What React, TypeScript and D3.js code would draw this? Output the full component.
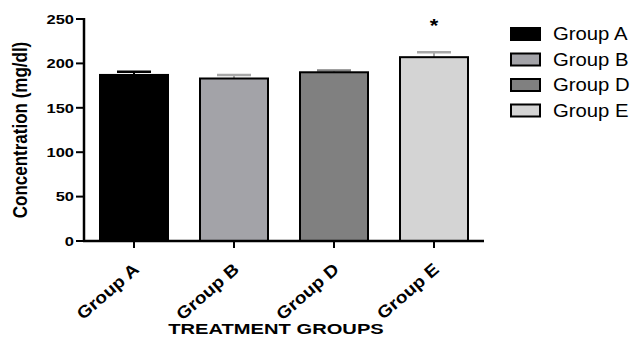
import React from "react";
import * as d3 from "d3";

const groups = ["Group A", "Group B", "Group D", "Group E"];
const means = [187, 183, 190, 207];
const errors = [3.5, 4, 2, 5.5];
const fills = ["#000000", "#a3a3a8", "#808080", "#d4d4d4"];
const capColors = ["#000000", "#a8a8a8", "#808080", "#a8a8a8"];
const yTicks = [0, 50, 100, 150, 200, 250];

const W = 635;
const H = 337;
const margin = { top: 19, right: 151, bottom: 96, left: 84 };
// the reference image is stretched horizontally a bit
const SX = 1.22;

const App = () => {
  const innerH = H - margin.top - margin.bottom;
  const x = d3
    .scaleBand()
    .domain(groups)
    .range([margin.left, 484])
    .paddingInner(0.32)
    .paddingOuter(0.16);
  const y = d3.scaleLinear().domain([0, 250]).range([margin.top + innerH, margin.top]);
  const font = "'Liberation Sans', Arial, sans-serif";

  return (
    <svg
      width={W}
      height={H}
      style={{ position: "absolute", left: 0, top: 0, background: "#fff" }}
      fontFamily={font}
    >
      {/* bars */}
      {groups.map((g, i) => {
        const bx = x(g)!;
        const cx = bx + x.bandwidth() / 2;
        return (
          <g key={g}>
            <line
              x1={cx}
              x2={cx}
              y1={y(means[i])}
              y2={y(means[i] + errors[i])}
              stroke={capColors[i]}
              strokeWidth={2}
            />
            <line
              x1={cx - 17}
              x2={cx + 17}
              y1={y(means[i] + errors[i])}
              y2={y(means[i] + errors[i])}
              stroke={capColors[i]}
              strokeWidth={2.5}
            />
            <rect
              x={bx}
              y={y(means[i])}
              width={x.bandwidth()}
              height={y(0) - y(means[i])}
              fill={fills[i]}
              stroke="#000"
              strokeWidth={2}
            />
          </g>
        );
      })}
      <text
        transform={`translate(${x("Group E")! + x.bandwidth() / 2},${y(250) + 13}) scale(${SX},1)`}
        textAnchor="middle"
        fontSize={18}
        fontWeight="bold"
      >
        *
      </text>

      {/* y axis */}
      <line x1={margin.left} x2={margin.left} y1={y(250) - 1} y2={y(0) + 1} stroke="#000" strokeWidth={2.5} />
      {yTicks.map((t) => (
        <g key={t}>
          <line x1={margin.left - 8} x2={margin.left} y1={y(t)} y2={y(t)} stroke="#000" strokeWidth={2} />
          <text
            transform={`translate(${margin.left - 10},${y(t)}) scale(${SX},1)`}
            dy="0.35em"
            textAnchor="end"
            fontSize={13.5}
            fontWeight="bold"
          >
            {t}
          </text>
        </g>
      ))}
      <text
        transform={`translate(27,${y(125)}) rotate(-90) scale(1,${SX})`}
        textAnchor="middle"
        fontSize={17}
        fontWeight="bold"
      >
        Concentration (mg/dl)
      </text>

      {/* x axis */}
      <line x1={margin.left - 1} x2={484} y1={y(0)} y2={y(0)} stroke="#000" strokeWidth={2.5} />
      {groups.map((g) => {
        const cx = x(g)! + x.bandwidth() / 2;
        return (
          <g key={g}>
            <line x1={cx} x2={cx} y1={y(0)} y2={y(0) + 7} stroke="#000" strokeWidth={2} />
            <text
              transform={`translate(${cx + 6},${y(0) + 30}) rotate(-41) scale(1.12,1)`}
              textAnchor="end"
              fontSize={17}
              fontWeight="bold"
            >
              {g}
            </text>
          </g>
        );
      })}
      <text
        transform={`translate(276,334) scale(1.3,1)`}
        textAnchor="middle"
        fontSize={15.5}
        fontWeight="bold"
      >
        TREATMENT GROUPS
      </text>

      {/* legend */}
      {groups.map((g, i) => (
        <g key={g} transform={`translate(0,${34 + i * 25.5})`}>
          <rect x={511} y={-6} width={29} height={12} fill={fills[i]} stroke="#000" strokeWidth={2} />
          <text transform={`translate(553,0) scale(1.16,1)`} dy="0.36em" fontSize={17.5}>
            {g}
          </text>
        </g>
      ))}
    </svg>
  );
};

export default App;
